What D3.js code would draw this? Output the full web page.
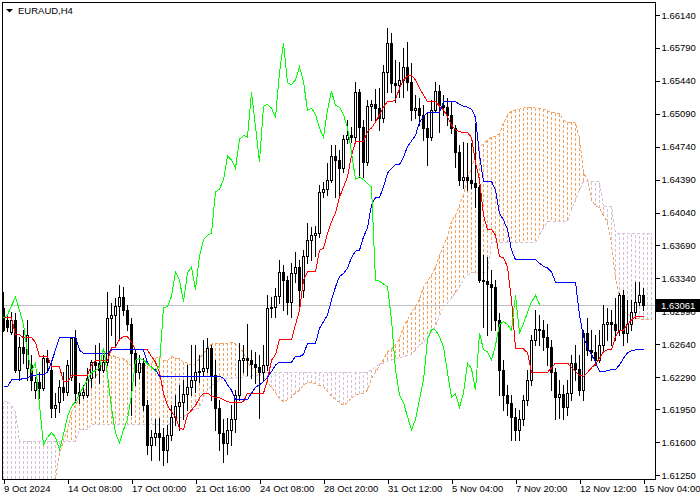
<!DOCTYPE html>
<html><head><meta charset="utf-8">
<script src="https://cdn.jsdelivr.net/npm/d3@7"></script>
<style>
html,body{margin:0;padding:0;background:#fff;}
svg{display:block;}
text{font-family:'Liberation Sans',Arial,sans-serif;font-size:9.5px;fill:#000;}
</style>
</head><body>
<svg id="chart" width="700" height="500"></svg>
<script>
const symbolTitle = "EURAUD,H4";
const lastPrice = 1.63061;
const priceTicks = ["1.66140","1.65790","1.65440","1.65090","1.64740","1.64390","1.64040","1.63690","1.63340","1.62990","1.62640","1.62290","1.61950","1.61600","1.61250"];
const dateTickBars = [0,16,32,48,64,80,96,112,128,144,160];
const dateTickLabels = ["9 Oct 2024","14 Oct 08:00","17 Oct 00:00","21 Oct 16:00","24 Oct 08:00","28 Oct 20:00","31 Oct 12:00","5 Nov 04:00","7 Nov 20:00","12 Nov 12:00","15 Nov 04:00"];

const openP = [
1.6303,1.6290,1.6277,1.6290,1.6237,1.6261,1.6239,1.6242,1.6215,1.6224,
1.6218,1.6249,1.6237,1.6196,1.6203,1.6219,1.6213,1.6229,1.6271,1.6213,
1.6210,1.6210,1.6228,1.6245,1.6244,1.6237,1.6245,1.6292,1.6295,1.6305,
1.6314,1.6300,1.6285,1.6255,1.6235,1.6244,1.6199,1.6157,1.6165,1.6170,
1.6165,1.6152,1.6168,1.6187,1.6198,1.6203,1.6211,1.6219,1.6226,1.6234,
1.6236,1.6239,1.6260,1.6231,1.6196,1.6170,1.6159,1.6173,1.6184,1.6210,
1.6247,1.6249,1.6247,1.6243,1.6240,1.6235,1.6242,1.6303,1.6304,1.6315,
1.6341,1.6332,1.6309,1.6340,1.6346,1.6322,1.6358,1.6375,1.6380,1.6382,
1.6426,1.6429,1.6439,1.6464,1.6460,1.6451,1.6482,1.6486,1.6484,1.6532,
1.6495,1.6458,1.6517,1.6519,1.6515,1.6505,1.6553,1.6584,1.6542,1.6540,
1.6545,1.6559,1.6543,1.6513,1.6515,1.6508,1.6494,1.6484,1.6513,1.6533,
1.6518,1.6516,1.6508,1.6494,1.6468,1.6439,1.6442,1.6439,1.6435,1.6431,
1.6332,1.6331,1.6328,1.6325,1.6290,1.6237,1.6210,1.6202,1.6187,1.6173,
1.6184,1.6205,1.6226,1.6269,1.6280,1.6279,1.6272,1.6261,1.6234,1.6208,
1.6211,1.6197,1.6212,1.6244,1.6238,1.6215,1.6276,1.6258,1.6256,1.6247,
1.6263,1.6285,1.6288,1.6285,1.6279,1.6316,1.6276,1.6286,1.6298,1.6309,
1.6316];
const highP = [
1.6320,1.6294,1.6298,1.6297,1.6272,1.6279,1.6290,1.6253,1.6229,1.6234,
1.6253,1.6258,1.6247,1.6212,1.6226,1.6235,1.6247,1.6272,1.6279,1.6223,
1.6221,1.6239,1.6247,1.6263,1.6265,1.6253,1.6320,1.6308,1.6313,1.6327,
1.6325,1.6306,1.6292,1.6258,1.6253,1.6249,1.6205,1.6173,1.6184,1.6186,
1.6175,1.6178,1.6199,1.6210,1.6221,1.6226,1.6242,1.6263,1.6263,1.6253,
1.6269,1.6271,1.6263,1.6247,1.6205,1.6184,1.6186,1.6199,1.6215,1.6265,
1.6263,1.6285,1.6258,1.6256,1.6253,1.6263,1.6316,1.6314,1.6324,1.6354,
1.6348,1.6337,1.6350,1.6362,1.6354,1.6364,1.6393,1.6389,1.6390,1.6433,
1.6437,1.6457,1.6476,1.6476,1.6471,1.6486,1.6502,1.6495,1.6543,1.6535,
1.6502,1.6524,1.6524,1.6535,1.6536,1.6561,1.6600,1.6595,1.6566,1.6564,
1.6579,1.6585,1.6563,1.6529,1.6526,1.6518,1.6510,1.6524,1.6543,1.6540,
1.6529,1.6526,1.6521,1.6497,1.6476,1.6479,1.6478,1.6478,1.6499,1.6433,
1.6359,1.6357,1.6343,1.6332,1.6297,1.6247,1.6221,1.6210,1.6196,1.6194,
1.6210,1.6237,1.6274,1.6300,1.6295,1.6290,1.6285,1.6269,1.6239,1.6226,
1.6221,1.6226,1.6253,1.6263,1.6253,1.6279,1.6292,1.6279,1.6274,1.6279,
1.6306,1.6303,1.6300,1.6313,1.6319,1.6322,1.6311,1.6311,1.6330,1.6330,
1.6324];
const lowP = [
1.6278,1.6278,1.6275,1.6235,1.6226,1.6244,1.6226,1.6215,1.6207,1.6207,
1.6215,1.6235,1.6187,1.6187,1.6192,1.6205,1.6210,1.6226,1.6203,1.6202,
1.6207,1.6208,1.6219,1.6229,1.6223,1.6234,1.6242,1.6274,1.6263,1.6269,
1.6295,1.6279,1.6189,1.6221,1.6228,1.6194,1.6147,1.6141,1.6157,1.6141,
1.6136,1.6139,1.6162,1.6178,1.6173,1.6184,1.6194,1.6210,1.6213,1.6224,
1.6231,1.6235,1.6205,1.6173,1.6152,1.6139,1.6147,1.6157,1.6171,1.6205,
1.6235,1.6231,1.6228,1.6223,1.6186,1.6226,1.6237,1.6293,1.6293,1.6308,
1.6300,1.6296,1.6293,1.6330,1.6305,1.6314,1.6350,1.6354,1.6358,1.6378,
1.6421,1.6423,1.6437,1.6421,1.6420,1.6447,1.6478,1.6479,1.6479,1.6442,
1.6442,1.6455,1.6502,1.6502,1.6492,1.6500,1.6532,1.6532,1.6521,1.6527,
1.6527,1.6534,1.6502,1.6505,1.6497,1.6481,1.6455,1.6481,1.6511,1.6490,
1.6508,1.6497,1.6489,1.6452,1.6433,1.6430,1.6428,1.6430,1.6410,1.6330,
1.6282,1.6274,1.6279,1.6279,1.6210,1.6194,1.6189,1.6162,1.6162,1.6162,
1.6178,1.6199,1.6221,1.6263,1.6263,1.6258,1.6242,1.6215,1.6184,1.6186,
1.6184,1.6189,1.6205,1.6226,1.6210,1.6205,1.6253,1.6247,1.6242,1.6245,
1.6258,1.6269,1.6263,1.6269,1.6274,1.6263,1.6266,1.6279,1.6292,1.6306,
1.6300];
const closeP = [
1.6279,1.6282,1.6290,1.6237,1.6261,1.6255,1.6274,1.6226,1.6224,1.6218,
1.6249,1.6245,1.6196,1.6199,1.6219,1.6213,1.6242,1.6271,1.6212,1.6210,
1.6213,1.6228,1.6245,1.6242,1.6237,1.6245,1.6292,1.6295,1.6305,1.6314,
1.6300,1.6285,1.6255,1.6235,1.6244,1.6199,1.6157,1.6165,1.6170,1.6165,
1.6152,1.6168,1.6187,1.6198,1.6203,1.6211,1.6219,1.6226,1.6234,1.6236,
1.6239,1.6260,1.6231,1.6196,1.6170,1.6159,1.6173,1.6184,1.6210,1.6247,
1.6249,1.6247,1.6243,1.6240,1.6235,1.6242,1.6303,1.6304,1.6315,1.6341,
1.6332,1.6309,1.6340,1.6346,1.6322,1.6358,1.6375,1.6380,1.6382,1.6426,
1.6429,1.6439,1.6464,1.6460,1.6451,1.6482,1.6486,1.6484,1.6532,1.6495,
1.6458,1.6517,1.6519,1.6515,1.6505,1.6553,1.6584,1.6542,1.6540,1.6545,
1.6559,1.6543,1.6513,1.6515,1.6508,1.6494,1.6484,1.6513,1.6533,1.6518,
1.6516,1.6508,1.6494,1.6468,1.6439,1.6442,1.6439,1.6435,1.6431,1.6332,
1.6331,1.6328,1.6325,1.6290,1.6237,1.6210,1.6202,1.6187,1.6173,1.6184,
1.6205,1.6226,1.6269,1.6280,1.6279,1.6272,1.6261,1.6234,1.6208,1.6211,
1.6197,1.6212,1.6244,1.6238,1.6215,1.6276,1.6258,1.6256,1.6247,1.6263,
1.6285,1.6288,1.6285,1.6279,1.6316,1.6276,1.6286,1.6298,1.6309,1.6316,
1.63061];

const tenkanSen = [
1.6292,1.6292,1.6292,1.6274,1.6274,1.6271,1.6271,1.6271,1.6266,1.6251,
1.6251,1.6251,1.6240,1.6240,1.6240,1.6224,1.6224,1.6231,1.6231,1.6231,
1.6231,1.6231,1.6242,1.6247,1.6247,1.6247,1.6247,1.6260,1.6261,1.6269,
1.6272,1.6272,1.6266,1.6258,1.6258,1.6258,1.6258,1.6251,1.6245,1.6234,
1.6212,1.6199,1.6192,1.6187,1.6175,1.6173,1.6189,1.6194,1.6199,1.6207,
1.6212,1.6212,1.6209,1.6207,1.6207,1.6205,1.6203,1.6202,1.6202,1.6202,
1.6203,1.6212,1.6212,1.6212,1.6212,1.6212,1.6226,1.6247,1.6253,1.6269,
1.6269,1.6269,1.6269,1.6285,1.6300,1.6332,1.6341,1.6341,1.6341,1.6364,
1.6366,1.6382,1.6394,1.6404,1.6420,1.6431,1.6442,1.6465,1.6479,1.6480,
1.6480,1.6490,1.6494,1.6500,1.6508,1.6516,1.6522,1.6522,1.6524,1.6536,
1.6545,1.6549,1.6550,1.6545,1.6536,1.6529,1.6522,1.6522,1.6522,1.6517,
1.6513,1.6506,1.6497,1.6492,1.6490,1.6489,1.6489,1.6484,1.6457,1.6439,
1.6401,1.6386,1.6386,1.6380,1.6357,1.6356,1.6346,1.6311,1.6260,1.6260,
1.6259,1.6255,1.6234,1.6234,1.6234,1.6234,1.6234,1.6239,1.6244,1.6244,
1.6244,1.6244,1.6239,1.6235,1.6231,1.6230,1.6234,1.6239,1.6243,1.6249,
1.6256,1.6258,1.6258,1.6272,1.6279,1.6279,1.6285,1.6290,1.6293,1.6293,
1.6293];
const kijunSen = [
1.6219,1.6219,1.6226,1.6226,1.6226,1.6228,1.6228,1.6231,1.6231,1.6232,
1.6232,1.6234,1.6245,1.6258,1.6271,1.6271,1.6271,1.6271,1.6271,1.6258,
1.6254,1.6254,1.6254,1.6254,1.6254,1.6254,1.6254,1.6258,1.6258,1.6258,
1.6258,1.6258,1.6258,1.6258,1.6258,1.6258,1.6244,1.6239,1.6237,1.6230,
1.6230,1.6230,1.6230,1.6230,1.6230,1.6230,1.6230,1.6230,1.6230,1.6230,
1.6230,1.6230,1.6230,1.6230,1.6230,1.6228,1.6221,1.6215,1.6205,1.6205,
1.6205,1.6205,1.6212,1.6218,1.6221,1.6224,1.6229,1.6235,1.6242,1.6245,
1.6245,1.6245,1.6245,1.6251,1.6251,1.6253,1.6265,1.6265,1.6265,1.6281,
1.6288,1.6295,1.6311,1.6325,1.6336,1.6339,1.6345,1.6356,1.6363,1.6364,
1.6378,1.6388,1.6412,1.6420,1.6420,1.6431,1.6446,1.6451,1.6455,1.6455,
1.6463,1.6474,1.6480,1.6486,1.6500,1.6506,1.6510,1.6510,1.6510,1.6510,
1.6522,1.6522,1.6522,1.6522,1.6519,1.6517,1.6516,1.6514,1.6505,1.6465,
1.6437,1.6437,1.6437,1.6428,1.6403,1.6396,1.6386,1.6364,1.6354,1.6354,
1.6354,1.6354,1.6354,1.6354,1.6350,1.6347,1.6345,1.6341,1.6330,1.6330,
1.6330,1.6330,1.6330,1.6330,1.6295,1.6272,1.6261,1.6253,1.6245,1.6235,
1.6235,1.6236,1.6237,1.6237,1.6242,1.6249,1.6255,1.6257,1.6258,1.6258,
1.6258];
const senkouA = [
1.6110,1.6110,1.6110,1.6110,1.6110,1.6110,1.6110,1.6110,1.6110,1.6110,
1.6110,1.6110,1.6115,1.6122,1.6147,1.6162,1.6173,1.6192,1.6199,1.6207,
1.6212,1.6221,1.6228,1.6230,1.6235,1.6247,1.6253,1.6252,1.6251,1.6249,
1.6249,1.6245,1.6240,1.6237,1.6235,1.6242,1.6241,1.6244,1.6249,1.6251,
1.6247,1.6247,1.6251,1.6249,1.6249,1.6245,1.6244,1.6242,1.6243,1.6249,
1.6254,1.6260,1.6264,1.6265,1.6265,1.6265,1.6265,1.6266,1.6265,1.6261,
1.6255,1.6245,1.6239,1.6235,1.6231,1.6229,1.6223,1.6218,1.6213,1.6206,
1.6203,1.6205,1.6208,1.6212,1.6215,1.6221,1.6223,1.6223,1.6222,1.6220,
1.6219,1.6214,1.6209,1.6205,1.6202,1.6199,1.6202,1.6207,1.6210,1.6211,
1.6212,1.6215,1.6228,1.6234,1.6242,1.6248,1.6256,1.6259,1.6263,1.6270,
1.6282,1.6290,1.6298,1.6304,1.6312,1.6325,1.6331,1.6338,1.6346,1.6358,
1.6369,1.6378,1.6395,1.6401,1.6412,1.6423,1.6439,1.6452,1.6465,1.6473,
1.6477,1.6481,1.6484,1.6485,1.6488,1.6499,1.6508,1.6512,1.6513,1.6514,
1.6515,1.6516,1.6516,1.6515,1.6515,1.6514,1.6512,1.6511,1.6510,1.6509,
1.6502,1.6500,1.6500,1.6499,1.6483,1.6446,1.6439,1.6417,1.6411,1.6409,
1.6401,1.6394,1.6370,1.6336,1.6311,1.6300,1.6296,1.6293,1.6292,1.6291,
1.6290,1.6290,1.6290];
const senkouB = [
1.6203,1.6203,1.6199,1.6192,1.6161,1.6161,1.6161,1.6161,1.6161,1.6161,
1.6161,1.6161,1.6161,1.6161,1.6161,1.6161,1.6161,1.6161,1.6161,1.6173,
1.6173,1.6173,1.6179,1.6179,1.6179,1.6179,1.6179,1.6179,1.6179,1.6179,
1.6179,1.6179,1.6179,1.6179,1.6179,1.6179,1.6179,1.6179,1.6179,1.6179,
1.6179,1.6179,1.6179,1.6184,1.6186,1.6187,1.6190,1.6192,1.6196,1.6196,
1.6207,1.6215,1.6220,1.6223,1.6226,1.6228,1.6228,1.6228,1.6228,1.6229,
1.6229,1.6230,1.6230,1.6231,1.6231,1.6234,1.6234,1.6234,1.6234,1.6234,
1.6234,1.6234,1.6234,1.6234,1.6234,1.6234,1.6234,1.6234,1.6234,1.6234,
1.6234,1.6234,1.6234,1.6234,1.6234,1.6234,1.6234,1.6234,1.6234,1.6234,
1.6234,1.6234,1.6237,1.6240,1.6243,1.6244,1.6246,1.6247,1.6249,1.6249,
1.6251,1.6252,1.6253,1.6258,1.6263,1.6266,1.6272,1.6277,1.6283,1.6294,
1.6304,1.6308,1.6313,1.6319,1.6325,1.6332,1.6338,1.6340,1.6340,1.6340,
1.6340,1.6340,1.6372,1.6372,1.6372,1.6372,1.6372,1.6372,1.6372,1.6372,
1.6372,1.6372,1.6372,1.6372,1.6380,1.6388,1.6394,1.6394,1.6394,1.6394,
1.6394,1.6394,1.6407,1.6417,1.6428,1.6437,1.6437,1.6437,1.6437,1.6437,
1.6410,1.6410,1.6410,1.6382,1.6382,1.6382,1.6382,1.6382,1.6382,1.6382,
1.6382,1.6382,1.6382];
const chikouShift = 26;

const colors = {tenkan:"#FF0000", kijun:"#0000FF", chikou:"#00FF00", spanA:"#F4A460", spanB:"#D8BFD8", priceLine:"#C0C0C0"};

const svg = d3.select("#chart");
const L = 3, R = 655, T = 3, B = 479;
const x = d3.scaleLinear().domain([0, 160]).range([3, 643]);
const y = d3.scaleLinear().domain([1.6125, 1.6614]).range([475, 15]);

svg.append("defs").append("clipPath").attr("id","plot")
  .append("rect").attr("x",L).attr("y",T).attr("width",R-L).attr("height",B-T);

const g = svg.append("g").attr("clip-path","url(#plot)").attr("shape-rendering","crispEdges");
const px = i => x(i) + 0.5;

// Ichimoku cloud hatching
const cloud = g.append("g");
senkouA.forEach((a, i) => {
  const b = senkouB[i];
  cloud.append("line")
    .attr("x1", px(i)).attr("x2", px(i))
    .attr("y1", y(a)).attr("y2", y(b))
    .attr("stroke", a > b ? colors.spanA : colors.spanB)
    .attr("stroke-width", 1).attr("stroke-dasharray", "3,2");
});
const lineGen = d3.line().x((d, i) => px(i)).y(d => y(d));
g.append("path").datum(senkouA).attr("d", lineGen).attr("fill","none")
  .attr("stroke", colors.spanA).attr("stroke-dasharray","3,2");
g.append("path").datum(senkouB).attr("d", lineGen).attr("fill","none")
  .attr("stroke", colors.spanB).attr("stroke-dasharray","3,2");

// last price line
const lpY = Math.round(y(lastPrice)) + 0.5;
g.append("line").attr("x1", L).attr("x2", R).attr("y1", lpY).attr("y2", lpY)
  .attr("stroke", colors.priceLine);

// candles
const candles = g.append("g");
openP.forEach((o, i) => {
  const c = closeP[i], h = highP[i], l = lowP[i];
  const cx = x(i);
  candles.append("line").attr("x1", cx + 0.5).attr("x2", cx + 0.5)
    .attr("y1", Math.round(y(h))).attr("y2", Math.round(y(l)) + 1)
    .attr("stroke", "#000");
  let top = Math.round(y(Math.max(o, c))), bot = Math.round(y(Math.min(o, c)));
  if (bot - top < 1) bot = top + 1;
  candles.append("rect").attr("x", cx - 0.5).attr("y", top + 0.5)
    .attr("width", 2).attr("height", bot - top)
    .attr("fill", c >= o ? "#fff" : "#000").attr("stroke", "#000");
});

// indicator lines
g.append("path").datum(tenkanSen).attr("d", lineGen).attr("fill","none").attr("stroke", colors.tenkan);
g.append("path").datum(kijunSen).attr("d", lineGen).attr("fill","none").attr("stroke", colors.kijun);
const chikou = closeP.slice(chikouShift);
g.append("path").datum(chikou).attr("d", lineGen).attr("fill","none").attr("stroke", colors.chikou);

// frame
svg.append("rect").attr("x", L - 0.5).attr("y", T - 0.5).attr("width", R - L + 1).attr("height", B - T + 1)
  .attr("fill","none").attr("stroke","#000").attr("shape-rendering","crispEdges");

// price axis
const yAxis = d3.axisRight(y).tickValues(priceTicks.map(Number))
  .tickFormat((d, i) => priceTicks[i]).tickSize(4).tickPadding(2);
const ya = svg.append("g").attr("transform", `translate(${R + 0.5},0)`).call(yAxis);
ya.select(".domain").remove();
ya.selectAll("line").attr("stroke","#000").attr("shape-rendering","crispEdges");
ya.selectAll("text").attr("font-family","'Liberation Sans',Arial,sans-serif").attr("font-size","9.5px").attr("fill","#000");

// time axis
const xAxis = d3.axisBottom(x).tickValues(dateTickBars)
  .tickFormat((d, i) => dateTickLabels[i]).tickSize(4).tickPadding(2);
const xa = svg.append("g").attr("transform", `translate(0.5,${B + 0.5})`).call(xAxis);
xa.select(".domain").remove();
xa.selectAll("line").attr("stroke","#000").attr("shape-rendering","crispEdges");
xa.selectAll("text").attr("text-anchor","start").attr("dx", 0)
  .attr("font-family","'Liberation Sans',Arial,sans-serif").attr("font-size","9.1px").attr("fill","#000");

// last price label
const lpTop = Math.round(y(lastPrice)) - 6;
svg.append("rect").attr("x", R + 1).attr("y", lpTop).attr("width", 44).attr("height", 13).attr("fill","#000");
svg.append("text").attr("x", R + 6).attr("y", lpTop + 10).attr("fill","#fff")
  .style("fill","#fff").text(lastPrice.toFixed(5));

// title
svg.append("path").attr("d","M6,9 L13,9 L9.5,12.5 Z").attr("fill","#000");
svg.append("text").attr("x", 18).attr("y", 14).text(symbolTitle);
</script>
</body></html>
